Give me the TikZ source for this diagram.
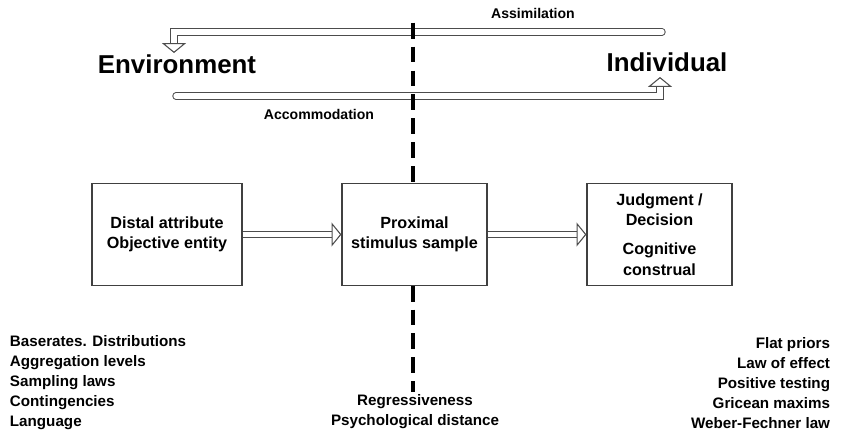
\documentclass[tikz,border=0pt]{standalone}
\usepackage{fontspec}
\setmainfont{Liberation Sans}
\usetikzlibrary{arrows.meta}

\begin{document}
\begin{tikzpicture}[x=0.025cm,y=-0.025cm,
  box node/.style={draw=black!75,line width=0.8pt,fill=white,minimum height=2.55cm,align=center,font=\fontsize{11.5}{14.6}\selectfont\bfseries},
  title node/.style={font=\fontsize{18.4}{22}\selectfont\bfseries},
  label node/.style={font=\fontsize{10}{12}\selectfont\bfseries},
  list node/.style={font=\fontsize{10.8}{14.2}\selectfont\bfseries},
  band/.style={draw=black!70,line width=0.75pt,double=white,double distance=3.8pt,
    -{Triangle[open,fill=white,length=7pt,width=17pt]}}]

  \useasboundingbox (0,0) rectangle (842,435);

  \node[title node] (env) at (177,64) {Environment};
  \node[title node] (ind) at (667,62) {Individual};
  \node[label node] (assim) at (533,13) {Assimilation};
  \node[label node] (accom) at (319,114) {Accommodation};

  \coordinate (asR) at (662,32);
  \coordinate (asT) at (174,53);
  \coordinate (acL) at (176,96);
  \coordinate (acT) at (660,77);
  \draw[band,line cap=round] (asR) -| (asT);
  \draw[band,line cap=round] (acL) -| (acT);

  \coordinate (dtop) at (413,22.7);
  \coordinate (dbot) at (413,392);
  \draw[line width=3.5pt,dash pattern=on 11.3pt off 5.7pt] (dtop) -- (dbot);

  \node[box node,minimum width=3.75cm] (dist) at (167,234.5) {Distal attribute\\Objective entity};
  \node[box node,minimum width=3.625cm] (prox) at (414.5,234.5) {Proximal\\stimulus sample};
  \node[box node,minimum width=3.625cm] (judg) at (659.5,234.5) {Judgment /\\Decision\\[6pt]Cognitive\\construal};

  \path
    (dist) edge[band] (prox)
    (prox) edge[band] (judg)
    ;

  \node[list node,anchor=west,align=left] (envlist) at (5,383)
    {Baserates. Distributions\\Aggregation levels\\Sampling laws\\Contingencies\\Language};
  \node[list node,align=center] (midlist) at (415,412)
    {Regressiveness\\Psychological distance};
  \node[list node,anchor=east,align=right] (indlist) at (835,383)
    {Flat priors\\Law of effect\\Positive testing\\Gricean maxims\\Weber-Fechner law};

\end{tikzpicture}
\end{document}
